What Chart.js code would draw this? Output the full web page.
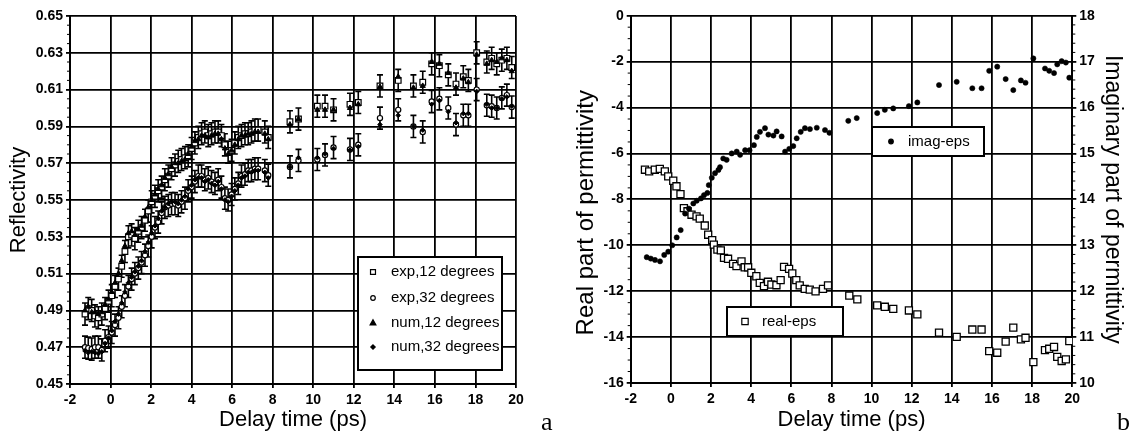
<!DOCTYPE html>
<html><head><meta charset="utf-8">
<script src="https://cdn.jsdelivr.net/npm/chart.js@4.4.1/dist/chart.umd.min.js"></script>
<style>
html,body{margin:0;padding:0;background:#fff;}
#wrap{position:relative;width:1141px;height:435px;overflow:hidden;}
#wrap canvas{position:absolute;left:0;top:0;}
</style></head><body>
<div id="wrap"><canvas id="ca" width="1141" height="435"></canvas><canvas id="cb" width="1141" height="435"></canvas></div>
<script>
// ---------- Panel a data ----------
const delayA = [
  -1.26,-1.1,-0.93,-0.77,-0.6,-0.43,-0.27,-0.1,
  0.06,0.22,0.39,0.55,0.71,0.88,1.04,1.2,1.37,1.53,1.7,1.86,
  2.03,2.19,2.35,2.52,2.68,2.85,3.01,3.18,3.34,3.5,3.67,3.83,
  4.0,4.16,4.33,4.49,4.65,4.82,4.98,5.15,5.31,5.47,5.64,5.8,5.97,
  6.13,6.3,6.46,6.63,6.79,6.95,7.12,7.28,7.61,7.78,
  8.85,9.27,10.2,10.58,11.0,11.81,12.22,13.29,14.19,14.94,15.4,15.84,16.22,16.66,17.04,17.4,17.65,18.06,18.56,18.8,19.05,19.3,19.55,19.79
];
const exp12 = [
  0.488,0.491,0.490,0.487,0.486,0.488,0.491,0.495,
  0.498,0.503,0.507,0.514,0.522,0.530,0.531,0.529,0.533,0.535,0.539,0.544,
  0.549,0.552,0.555,0.557,0.561,0.563,0.567,0.569,0.571,0.572,0.573,0.574,
  0.578,0.581,0.584,0.586,0.587,0.585,0.586,0.587,0.587,0.585,0.580,0.576,0.577,
  0.581,0.584,0.585,0.586,0.586,0.587,0.588,0.588,0.587,0.584,
  0.5925,0.594,0.601,0.601,0.599,0.602,0.603,0.612,0.615,0.612,0.614,0.624,0.623,0.618,0.613,0.617,0.615,0.630,0.625,0.627,0.624,0.626,0.627,0.622
];
const exp32 = [
  0.470,0.4695,0.469,0.470,0.470,0.4685,0.4735,0.4755,
  0.478,0.482,0.486,0.492,0.498,0.503,0.507,0.510,0.513,0.516,0.520,0.525,
  0.530,0.535,0.538,0.543,0.546,0.547,0.548,0.548,0.547,0.549,0.551,0.555,
  0.557,0.560,0.563,0.563,0.561,0.562,0.560,0.559,0.561,0.557,0.551,0.550,0.553,
  0.556,0.559,0.563,0.564,0.566,0.566,0.567,0.567,0.566,0.5635,
  0.568,0.5715,0.572,0.5745,0.5785,0.5775,0.580,0.5945,0.599,0.590,0.587,0.6035,0.605,0.600,0.591,0.596,0.596,0.610,0.6015,0.601,0.600,0.6055,0.607,0.6005
];
const num12 = [
  0.490,0.492,0.489,0.489,0.488,0.489,0.493,0.496,
  0.500,0.505,0.510,0.517,0.525,0.532,0.533,0.531,0.534,0.536,0.541,0.546,
  0.550,0.553,0.556,0.558,0.562,0.564,0.568,0.570,0.570,0.571,0.572,0.575,
  0.579,0.582,0.583,0.585,0.585,0.584,0.585,0.586,0.586,0.583,0.578,0.575,0.577,
  0.580,0.583,0.585,0.585,0.586,0.586,0.587,0.587,0.586,0.583,
  0.591,0.594,0.599,0.599,0.599,0.600,0.602,0.6115,0.617,0.611,0.612,0.625,0.624,0.619,0.611,0.616,0.614,0.629,0.624,0.626,0.625,0.627,0.626,0.620
];
const num32 = [
  0.468,0.467,0.4675,0.467,0.4665,0.4675,0.472,0.475,
  0.479,0.484,0.488,0.494,0.500,0.505,0.508,0.511,0.514,0.517,0.522,0.527,
  0.532,0.536,0.540,0.544,0.546,0.548,0.549,0.549,0.548,0.550,0.552,0.556,
  0.558,0.561,0.562,0.562,0.560,0.561,0.559,0.558,0.560,0.556,0.550,0.549,0.552,
  0.555,0.558,0.562,0.563,0.565,0.565,0.566,0.566,0.565,0.562,
  0.568,0.573,0.573,0.575,0.578,0.577,0.579,0.591,0.596,0.590,0.588,0.602,0.604,0.598,0.592,0.597,0.597,0.609,0.602,0.600,0.600,0.605,0.606,0.601
];
const expError = 0.006;
const xTicks = [-2,0,2,4,6,8,10,12,14,16,18,20];
const yTicksA = [0.45,0.47,0.49,0.51,0.53,0.55,0.57,0.59,0.61,0.63,0.65];

// ---------- Panel b data ----------
const realT = [
  -1.29,-1.08,-0.80,-0.55,-0.30,-0.13,0.12,0.28,0.48,0.65,
  0.83,1.03,1.28,1.44,1.69,1.86,2.06,2.14,2.32,2.49,
  2.65,2.85,3.10,3.27,3.52,3.68,3.85,4.01,4.26,4.43,
  4.64,4.84,5.01,5.26,5.47,5.64,5.89,6.05,6.25,6.42,
  6.67,6.92,7.21,7.58,7.83,
  8.89,9.29,10.28,10.66,11.08,11.86,12.28,13.36,14.24,15.02,
  15.48,15.86,16.26,16.68,17.06,17.44,17.67,18.06,18.64,18.85,
  19.09,19.25,19.47,19.68,19.85
];
const realEps = [
  -6.71,-6.78,-6.71,-6.67,-6.78,-7.0,-7.19,-7.43,-7.77,-8.38,
  -8.52,-8.67,-8.74,-8.84,-9.14,-9.54,-9.78,-9.97,-10.19,-10.22,
  -10.55,-10.59,-10.81,-10.91,-10.70,-10.96,-10.96,-11.20,-11.35,-11.64,
  -11.78,-11.59,-11.71,-11.74,-11.52,-10.94,-11.03,-11.23,-11.52,-11.75,
  -11.90,-11.93,-12.01,-11.90,-11.75,
  -12.19,-12.36,-12.62,-12.68,-12.77,-12.84,-13.01,-13.81,-13.99,-13.67,
  -13.67,-14.61,-14.68,-14.20,-13.59,-14.10,-14.03,-15.09,-14.57,-14.51,
  -14.43,-14.86,-15.04,-14.97,-14.17
];
const imagT = [
  -1.20,-1.00,-0.79,-0.54,-0.33,-0.13,0.07,0.29,0.49,0.71,
  0.90,1.12,1.29,1.50,1.65,1.82,1.89,2.04,2.20,2.37,
  2.45,2.61,2.78,3.03,3.28,3.45,3.70,3.92,4.14,4.28,
  4.44,4.69,4.86,5.11,5.27,5.52,5.69,5.90,6.10,6.27,
  6.47,6.68,6.93,7.27,7.68,7.90,
  8.84,9.26,10.28,10.66,11.08,11.86,12.28,13.36,14.24,15.02,
  15.48,15.86,16.26,16.68,17.06,17.44,17.67,18.06,18.64,18.85,
  19.09,19.25,19.47,19.68,19.85
];
const imagEps = [
  12.74,12.71,12.68,12.65,12.79,12.86,13.00,13.17,13.33,13.69,
  13.80,13.91,13.97,14.02,14.09,14.14,14.31,14.47,14.57,14.64,
  14.70,14.89,14.86,15.00,15.04,14.97,15.07,15.07,15.18,15.36,
  15.47,15.55,15.41,15.39,15.48,15.37,15.04,15.10,15.16,15.33,
  15.47,15.55,15.53,15.56,15.51,15.45,
  15.71,15.77,15.88,15.95,15.98,16.03,16.11,16.49,16.56,16.42,
  16.42,16.80,16.89,16.62,16.38,16.59,16.54,17.07,16.85,16.80,
  16.75,16.94,17.01,16.98,16.65
];
const yTicksReal = [-16,-14,-12,-10,-8,-6,-4,-2,0];
const yTicksImag = [10,11,12,13,14,15,16,17,18];

// ---------- helpers ----------
const pts = (xs, ys) => xs.map((x, i) => ({x, y: ys[i]}));
Chart.defaults.font.family = "'Liberation Sans', Arial, sans-serif";
Chart.defaults.color = '#000';

function drawSymbol(ctx, style, x, y, r, fill) {
  ctx.save();
  ctx.beginPath();
  ctx.lineWidth = 1.2;
  ctx.strokeStyle = '#000';
  ctx.fillStyle = fill;
  if (style === 'rect') { const s = r * Math.SQRT1_2; ctx.rect(x - s, y - s, 2 * s, 2 * s); }
  else if (style === 'circle') { ctx.arc(x, y, r, 0, Math.PI * 2); }
  else if (style === 'triangle') { ctx.moveTo(x, y - r); ctx.lineTo(x + r * 0.9, y + r * 0.6); ctx.lineTo(x - r * 0.9, y + r * 0.6); ctx.closePath(); }
  else if (style === 'rectRot') { ctx.moveTo(x, y - r); ctx.lineTo(x + r, y); ctx.lineTo(x, y + r); ctx.lineTo(x - r, y); ctx.closePath(); }
  ctx.fill(); ctx.stroke();
  ctx.restore();
}

const errorBarPlugin = {
  id: 'errorBars',
  beforeDatasetsDraw(chart) {
    const ctx = chart.ctx;
    const area = chart.chartArea;
    ctx.save();
    ctx.beginPath();
    ctx.rect(area.left, area.top - 2, area.right - area.left, area.bottom - area.top + 4);
    ctx.clip();
    ctx.strokeStyle = '#000';
    ctx.lineWidth = 1.6;
    chart.data.datasets.forEach((ds, di) => {
      if (!ds.errorBar) return;
      const meta = chart.getDatasetMeta(di);
      const xs = chart.scales[meta.xAxisID], ys = chart.scales[meta.yAxisID];
      ds.data.forEach(p => {
        const px = xs.getPixelForValue(p.x);
        const top = ys.getPixelForValue(p.y + ds.errorBar);
        const bot = ys.getPixelForValue(p.y - ds.errorBar);
        ctx.beginPath();
        ctx.moveTo(px, top); ctx.lineTo(px, bot);
        ctx.moveTo(px - 3, top); ctx.lineTo(px + 3, top);
        ctx.moveTo(px - 3, bot); ctx.lineTo(px + 3, bot);
        ctx.stroke();
      });
    });
    ctx.restore();
  }
};

const minorTicksPlugin = {
  id: 'minorTicks',
  afterDraw(chart, args, opts) {
    const ctx = chart.ctx;
    ctx.save();
    ctx.strokeStyle = '#000';
    ctx.lineWidth = 1;
    (opts.axes || []).forEach(a => {
      const s = chart.scales[a.id];
      const n = Math.round((s.max - s.min) / a.step);
      for (let i = 0; i <= n; i++) {
        if (i % a.every === 0) continue;
        const py = s.getPixelForValue(s.min + i * a.step);
        ctx.beginPath();
        if (s.position === 'left') { ctx.moveTo(s.right, py); ctx.lineTo(s.right - 3, py); }
        else { ctx.moveTo(s.left, py); ctx.lineTo(s.left + 3, py); }
        ctx.stroke();
      }
    });
    ctx.restore();
  }
};

const boxLegendPlugin = {
  id: 'boxLegend',
  afterDraw(chart, args, opts) {
    const ctx = chart.ctx;
    (opts.boxes || []).forEach(b => {
      ctx.save();
      ctx.fillStyle = '#fff';
      ctx.fillRect(b.x, b.y, b.w, b.h);
      ctx.lineWidth = 2;
      ctx.strokeStyle = '#000';
      ctx.strokeRect(b.x, b.y, b.w, b.h);
      ctx.font = "15px 'Liberation Sans', Arial, sans-serif";
      ctx.fillStyle = '#000';
      ctx.textBaseline = 'middle';
      b.items.forEach(it => {
        drawSymbol(ctx, it.style, b.symX, it.y, it.r, it.fill);
        ctx.fillStyle = '#000';
        ctx.fillText(it.label, b.textX, it.y);
      });
      ctx.restore();
    });
  }
};

const panelLabelPlugin = {
  id: 'panelLabel',
  afterDraw(chart, args, opts) {
    const ctx = chart.ctx;
    ctx.save();
    ctx.font = "26px 'Liberation Serif', 'Times New Roman', serif";
    ctx.fillStyle = '#000';
    ctx.textBaseline = 'alphabetic';
    ctx.fillText(opts.text, opts.x, opts.y);
    ctx.restore();
  }
};

const gridStyle = {color: '#000', lineWidth: 1.8, tickLength: 4};
const borderStyle = {color: '#000', width: 2};
const tickFont = {size: 14, weight: 'bold'};

function xAxis(height) {
  return {
    type: 'linear', min: -2, max: 20,
    afterBuildTicks: s => { s.ticks = xTicks.map(v => ({value: v})); },
    afterFit: s => { s.height = height; },
    grid: gridStyle, border: borderStyle,
    ticks: {font: tickFont, color: '#000', padding: 4, maxRotation: 0, callback: v => String(v)},
    title: {display: true, text: 'Delay time (ps)', font: {size: 22}, color: '#000', padding: {top: 0, bottom: 2}}
  };
}

// ---------- Chart a ----------
new Chart(document.getElementById('ca'), {
  type: 'scatter',
  data: {datasets: [
    {label: 'num,12 degrees', data: pts(delayA, num12), pointStyle: 'triangle', pointRadius: 3, pointBorderWidth: 1, borderColor: '#000', backgroundColor: '#000'},
    {label: 'num,32 degrees', data: pts(delayA, num32), pointStyle: 'rectRot', pointRadius: 2.3, pointBorderWidth: 1, borderColor: '#000', backgroundColor: '#000'},
    {label: 'exp,12 degrees', data: pts(delayA, exp12), pointStyle: 'rect', pointRadius: 4, pointBorderWidth: 1.2, borderColor: '#000', backgroundColor: '#fff', errorBar: expError},
    {label: 'exp,32 degrees', data: pts(delayA, exp32), pointStyle: 'circle', pointRadius: 2.6, pointBorderWidth: 1.2, borderColor: '#000', backgroundColor: '#fff', errorBar: expError}
  ]},
  options: {
    responsive: false, animation: false, events: [],
    layout: {padding: {left: 0, top: 16, right: 625, bottom: 0}},
    plugins: {
      legend: {display: false}, tooltip: {enabled: false},
      minorTicks: {axes: [{id: 'y', step: 0.005, every: 4}]},
      boxLegend: {boxes: [{x: 358, y: 257, w: 144, h: 113, symX: 373, textX: 391, items: [
        {label: 'exp,12 degrees', style: 'rect', r: 3.5, fill: '#fff', y: 272},
        {label: 'exp,32 degrees', style: 'circle', r: 2.3, fill: '#fff', y: 298},
        {label: 'num,12 degrees', style: 'triangle', r: 3.2, fill: '#000', y: 323},
        {label: 'num,32 degrees', style: 'rectRot', r: 2.2, fill: '#000', y: 347}
      ]}]},
      panelLabel: {text: 'a', x: 541, y: 430}
    },
    scales: {
      x: xAxis(51),
      y: {
        type: 'linear', min: 0.45, max: 0.65,
        afterBuildTicks: s => { s.ticks = yTicksA.map(v => ({value: v})); },
        afterFit: s => { s.width = 70; },
        grid: gridStyle, border: borderStyle,
        ticks: {font: tickFont, color: '#000', padding: 3, callback: v => Number(v).toFixed(2)},
        title: {display: true, text: 'Reflectivity', font: {size: 22}, color: '#000', padding: {top: 6, bottom: 0}}
      }
    }
  },
  plugins: [errorBarPlugin, minorTicksPlugin, boxLegendPlugin, panelLabelPlugin]
});

// ---------- Chart b ----------
new Chart(document.getElementById('cb'), {
  type: 'scatter',
  data: {datasets: [
    {label: 'imag-eps', data: pts(imagT, imagEps), yAxisID: 'y2', pointStyle: 'circle', pointRadius: 2.6, pointBorderWidth: 0.5, borderColor: '#000', backgroundColor: '#000'},
    {label: 'real-eps', data: pts(realT, realEps), yAxisID: 'y', pointStyle: 'rect', pointRadius: 5, pointBorderWidth: 1.3, borderColor: '#000', backgroundColor: '#fff'}
  ]},
  options: {
    responsive: false, animation: false, events: [],
    layout: {padding: {left: 570, top: 15.7, right: 0, bottom: 0}},
    plugins: {
      legend: {display: false}, tooltip: {enabled: false},
      minorTicks: {axes: [{id: 'y', step: 0.5, every: 4}, {id: 'y2', step: 0.2, every: 5}]},
      boxLegend: {boxes: [
        {x: 727, y: 307, w: 116, h: 29, symX: 745, textX: 762, items: [{label: 'real-eps', style: 'rect', r: 4.5, fill: '#fff', y: 321.5}]},
        {x: 872, y: 127, w: 112, h: 29, symX: 891, textX: 908, items: [{label: 'imag-eps', style: 'circle', r: 2.3, fill: '#000', y: 141.5}]}
      ]},
      panelLabel: {text: 'b', x: 1117, y: 430}
    },
    scales: {
      x: xAxis(52),
      y: {
        type: 'linear', position: 'left', min: -16, max: 0,
        afterBuildTicks: s => { s.ticks = yTicksReal.map(v => ({value: v})); },
        afterFit: s => { s.width = 60.7; },
        grid: gridStyle, border: borderStyle,
        ticks: {font: tickFont, color: '#000', padding: 3, callback: v => String(v)},
        title: {display: true, text: 'Real part of permittivity    ', font: {size: 24}, color: '#000', padding: {top: 2, bottom: 0}}
      },
      y2: {
        type: 'linear', position: 'right', min: 10, max: 18,
        afterBuildTicks: s => { s.ticks = yTicksImag.map(v => ({value: v})); },
        afterFit: s => { s.width = 68.7; },
        grid: {color: '#000', lineWidth: 1.8, tickLength: 4, drawOnChartArea: false}, border: borderStyle,
        ticks: {font: tickFont, color: '#000', padding: 3, callback: v => String(v)},
        title: {display: true, text: 'Imaginary part of permittivity', font: {size: 23}, color: '#000', padding: {top: 15, bottom: 0}}
      }
    }
  },
  plugins: [minorTicksPlugin, boxLegendPlugin, panelLabelPlugin]
});
</script>
</body></html>
